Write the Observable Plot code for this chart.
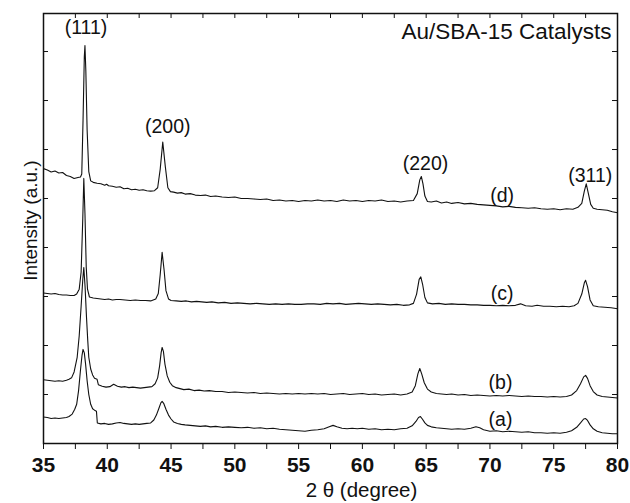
<!DOCTYPE html>
<html><head><meta charset="utf-8">
<script src="https://cdn.jsdelivr.net/npm/d3@7"></script>
<script src="https://cdn.jsdelivr.net/npm/@observablehq/plot@0.6"></script>
<style>
html,body{margin:0;padding:0;background:#fff;}
svg{font-family:"Liberation Sans", Arial, sans-serif;}
</style></head><body><div id="chart"></div>
<script>
// ---- data (2θ in degrees, intensity in stacked arbitrary units) ----
const seriesNames = ["(a)", "(b)", "(c)", "(d)"];
const peakLabels = ["(111)", "(200)", "(220)", "(311)"];
const peakLabelX = [38.33, 44.74, 64.95, 77.86];
const peakLabelY = [8.48, 6.46, 5.71, 5.47];
const seriesLabelX = [70.83, 70.83, 70.96, 70.96];
const seriesLabelY = [0.49, 1.25, 3.05, 5.05];
const titleText = "Au/SBA-15 Catalysts";
const xTitle = "2 θ (degree)";
const yTitle = "Intensity (a.u.)";
const majorTicks = [35, 40, 45, 50, 55, 60, 65, 70, 75, 80];
const minorTicks = [37.5, 42.5, 47.5, 52.5, 57.5, 62.5, 67.5, 72.5, 77.5];
const yTicks = [1, 2, 3, 4, 5, 6, 7, 8];

const curveA = [[35.0,0.54],[35.3,0.53],[35.6,0.51],[35.9,0.52],[36.2,0.51],[36.5,0.52],[36.8,0.53],[37.0,0.55],[37.25,0.60],[37.45,0.70],[37.6,0.80],[37.75,1.08],[37.9,1.50],[38.02,1.80],[38.1,1.92],[38.2,1.85],[38.3,1.62],[38.42,1.28],[38.55,1.00],[38.7,0.80],[38.85,0.71],[39.0,0.68],[39.15,0.66],[39.22,0.42],[39.5,0.40],[39.8,0.41],[40.1,0.39],[40.4,0.40],[40.7,0.42],[41.0,0.43],[41.3,0.41],[41.6,0.40],[41.9,0.39],[42.2,0.40],[42.5,0.39],[42.8,0.40],[43.1,0.41],[43.4,0.42],[43.65,0.48],[43.85,0.58],[44.05,0.72],[44.2,0.83],[44.3,0.86],[44.42,0.82],[44.6,0.70],[44.8,0.58],[45.0,0.50],[45.2,0.44],[45.5,0.41],[45.8,0.39],[46.1,0.38],[46.5,0.37],[46.9,0.36],[47.3,0.35],[47.7,0.36],[48.1,0.34],[48.5,0.35],[49.0,0.33],[49.5,0.34],[50.0,0.33],[50.5,0.32],[51.0,0.33],[51.5,0.31],[52.0,0.32],[52.5,0.30],[53.0,0.31],[53.5,0.29],[54.0,0.28],[54.5,0.27],[55.0,0.26],[55.5,0.25],[56.0,0.27],[56.5,0.28],[57.0,0.30],[57.4,0.34],[57.7,0.37],[58.0,0.34],[58.4,0.31],[58.8,0.30],[59.2,0.31],[59.6,0.30],[60.0,0.31],[60.5,0.29],[61.0,0.30],[61.5,0.28],[62.0,0.29],[62.5,0.28],[63.0,0.30],[63.5,0.31],[63.9,0.36],[64.2,0.45],[64.4,0.53],[64.55,0.55],[64.7,0.50],[64.9,0.42],[65.1,0.37],[65.4,0.34],[65.8,0.32],[66.2,0.31],[66.6,0.30],[67.0,0.29],[67.5,0.30],[68.0,0.29],[68.5,0.31],[68.9,0.34],[69.2,0.32],[69.5,0.28],[70.0,0.25],[70.5,0.26],[71.0,0.24],[71.5,0.25],[72.0,0.24],[72.5,0.23],[73.0,0.24],[73.5,0.22],[74.0,0.22],[74.5,0.21],[75.0,0.22],[75.5,0.21],[76.0,0.23],[76.4,0.26],[76.8,0.33],[77.1,0.42],[77.35,0.50],[77.5,0.51],[77.65,0.47],[77.85,0.38],[78.1,0.30],[78.4,0.25],[78.8,0.22],[79.2,0.21],[79.6,0.20],[80.0,0.20]];

const curveB = [[35.0,1.30],[35.3,1.29],[35.6,1.28],[35.9,1.27],[36.2,1.28],[36.5,1.27],[36.8,1.29],[37.0,1.31],[37.2,1.34],[37.4,1.46],[37.64,1.76],[37.8,2.20],[37.95,2.80],[38.08,3.35],[38.16,3.59],[38.26,3.20],[38.37,2.58],[38.47,2.10],[38.55,1.76],[38.7,1.52],[38.85,1.40],[39.0,1.33],[39.2,1.31],[39.3,1.20],[39.6,1.17],[39.9,1.15],[40.2,1.16],[40.5,1.21],[40.8,1.17],[41.1,1.15],[41.4,1.16],[41.7,1.14],[42.0,1.15],[42.3,1.14],[42.6,1.13],[42.9,1.14],[43.2,1.15],[43.5,1.16],[43.75,1.22],[43.95,1.34],[44.1,1.58],[44.22,1.85],[44.3,1.96],[44.4,1.88],[44.52,1.62],[44.7,1.38],[44.9,1.25],[45.1,1.18],[45.4,1.14],[45.7,1.12],[46.0,1.10],[46.4,1.11],[46.8,1.08],[47.2,1.09],[47.6,1.07],[48.0,1.08],[48.5,1.06],[49.0,1.06],[49.5,1.04],[50.0,1.05],[50.5,1.04],[51.0,1.03],[51.5,1.04],[52.0,1.02],[52.5,1.03],[53.0,1.02],[53.5,1.01],[54.0,1.02],[54.5,1.01],[55.0,1.02],[55.5,1.01],[56.0,1.02],[56.5,1.01],[57.0,1.02],[57.5,1.00],[58.0,1.01],[58.5,1.02],[59.0,1.00],[59.5,1.01],[60.0,1.02],[60.5,1.00],[61.0,1.01],[61.5,0.99],[62.0,1.00],[62.5,1.01],[63.0,0.99],[63.5,1.01],[63.9,1.05],[64.15,1.18],[64.35,1.42],[64.5,1.53],[64.65,1.42],[64.85,1.24],[65.1,1.11],[65.4,1.05],[65.8,1.02],[66.2,1.01],[66.6,1.00],[67.0,1.01],[67.5,0.99],[68.0,1.00],[68.5,0.98],[69.0,0.99],[69.5,0.98],[70.0,0.97],[70.5,0.98],[71.0,0.97],[71.5,0.98],[72.0,0.97],[72.5,0.96],[73.0,0.97],[73.5,0.96],[74.0,0.96],[74.5,0.95],[75.0,0.96],[75.5,0.95],[76.0,0.96],[76.4,0.99],[76.8,1.08],[77.1,1.22],[77.35,1.36],[77.5,1.39],[77.65,1.33],[77.85,1.18],[78.1,1.06],[78.4,0.99],[78.8,0.96],[79.2,0.95],[79.6,0.94],[80.0,0.93]];

const curveC = [[35.0,3.07],[35.3,3.06],[35.6,3.05],[35.9,3.06],[36.2,3.04],[36.5,3.03],[36.8,3.03],[37.1,3.02],[37.4,3.02],[37.6,3.05],[37.8,3.15],[37.95,3.50],[38.08,4.60],[38.16,5.41],[38.25,4.70],[38.35,3.60],[38.45,3.15],[38.6,2.99],[38.9,2.97],[39.2,2.96],[39.5,2.95],[39.8,2.94],[40.1,2.95],[40.4,2.93],[40.7,2.94],[41.0,2.94],[41.4,2.93],[41.8,2.92],[42.2,2.93],[42.6,2.92],[43.0,2.92],[43.4,2.91],[43.8,2.95],[44.0,3.06],[44.15,3.45],[44.3,3.90],[44.45,3.55],[44.6,3.12],[44.8,2.95],[45.0,2.92],[45.4,2.91],[45.8,2.90],[46.2,2.91],[46.6,2.89],[47.0,2.90],[47.4,2.89],[47.8,2.88],[48.2,2.89],[48.7,2.87],[49.2,2.88],[49.7,2.86],[50.2,2.87],[50.7,2.86],[51.2,2.85],[51.7,2.86],[52.2,2.85],[52.7,2.84],[53.2,2.85],[53.7,2.84],[54.2,2.85],[54.7,2.84],[55.2,2.84],[55.7,2.85],[56.2,2.85],[56.7,2.84],[57.2,2.86],[57.7,2.85],[58.2,2.86],[58.7,2.84],[59.2,2.85],[59.7,2.86],[60.2,2.85],[60.7,2.84],[61.2,2.85],[61.7,2.84],[62.2,2.83],[62.7,2.84],[63.2,2.82],[63.7,2.83],[64.0,2.86],[64.25,3.05],[64.45,3.35],[64.58,3.40],[64.72,3.25],[64.9,2.98],[65.1,2.87],[65.5,2.85],[66.0,2.86],[66.5,2.84],[67.0,2.85],[67.5,2.84],[68.0,2.84],[68.5,2.83],[69.0,2.83],[69.5,2.82],[70.0,2.82],[70.5,2.81],[71.0,2.82],[71.5,2.81],[72.0,2.82],[72.4,2.85],[72.8,2.81],[73.3,2.80],[73.7,2.82],[74.2,2.80],[74.7,2.80],[75.2,2.79],[75.7,2.80],[76.2,2.79],[76.6,2.81],[76.9,2.86],[77.2,3.05],[77.4,3.28],[77.5,3.33],[77.65,3.20],[77.85,2.93],[78.1,2.81],[78.5,2.79],[79.0,2.78],[79.5,2.77],[80.0,2.75]];

const curveD = [[35.0,5.61],[35.3,5.58],[35.6,5.54],[35.9,5.56],[36.2,5.52],[36.5,5.53],[36.8,5.47],[37.1,5.45],[37.4,5.41],[37.7,5.43],[37.9,5.44],[38.0,5.50],[38.1,6.60],[38.2,7.90],[38.25,8.12],[38.32,7.60],[38.42,6.40],[38.55,5.55],[38.7,5.36],[38.9,5.33],[39.2,5.31],[39.5,5.30],[39.8,5.27],[39.95,5.29],[40.1,5.26],[40.4,5.25],[40.7,5.23],[41.0,5.24],[41.3,5.20],[41.6,5.21],[41.9,5.18],[42.2,5.19],[42.5,5.17],[42.8,5.18],[43.1,5.16],[43.4,5.15],[43.7,5.16],[43.95,5.22],[44.15,5.60],[44.35,6.15],[44.55,5.65],[44.75,5.22],[44.95,5.14],[45.2,5.13],[45.5,5.11],[45.8,5.12],[46.1,5.09],[46.5,5.10],[46.9,5.07],[47.3,5.06],[47.7,5.07],[48.1,5.04],[48.5,5.05],[49.0,5.03],[49.5,5.02],[50.0,5.03],[50.5,5.00],[51.0,5.00],[51.5,4.99],[52.0,4.98],[52.5,4.99],[53.0,4.96],[53.5,4.97],[54.0,4.95],[54.5,4.96],[55.0,4.94],[55.5,4.96],[56.0,4.95],[56.5,4.97],[57.0,4.95],[57.5,4.96],[58.0,4.94],[58.5,4.97],[59.0,4.95],[59.5,4.96],[60.0,4.94],[60.5,4.96],[61.0,4.95],[61.5,4.97],[62.0,4.94],[62.5,4.95],[63.0,4.93],[63.5,4.95],[64.0,4.96],[64.3,5.10],[64.5,5.38],[64.62,5.45],[64.75,5.30],[64.9,5.05],[65.1,4.94],[65.4,4.93],[65.8,4.95],[66.2,4.91],[66.6,4.93],[67.0,4.90],[67.5,4.92],[68.0,4.89],[68.5,4.90],[69.0,4.88],[69.5,4.87],[70.0,4.86],[70.5,4.85],[71.0,4.83],[71.5,4.84],[72.0,4.82],[72.5,4.81],[73.0,4.80],[73.5,4.81],[74.0,4.79],[74.5,4.78],[75.0,4.79],[75.5,4.77],[76.0,4.79],[76.5,4.78],[76.9,4.82],[77.2,4.90],[77.4,5.15],[77.55,5.30],[77.7,5.12],[77.9,4.88],[78.1,4.80],[78.4,4.78],[78.8,4.77],[79.2,4.76],[79.6,4.73],[80.0,4.71]];

// ---- build tables ----
const curves = [curveA, curveB, curveC, curveD];
const rows = [];
curves.forEach((c, i) => c.forEach(([x, y]) => rows.push({x, y, s: seriesNames[i]})));
const peakRows = peakLabels.map((t, i) => ({t, x: peakLabelX[i], y: peakLabelY[i]}));
const seriesRows = seriesNames.map((t, i) => ({t, x: seriesLabelX[i], y: seriesLabelY[i]}));
const allXTicks = majorTicks.concat(minorTicks);

const ink = "#111";
const chart = Plot.plot({
  width: 630, height: 503,
  marginLeft: 43, marginRight: 13, marginTop: 13, marginBottom: 60,
  style: {fontFamily: "Liberation Sans, Arial, sans-serif", background: "#fff", color: ink},
  x: {domain: [35, 80], label: null},
  y: {domain: [0, 8.776], axis: null, label: null},
  marks: [
    Plot.line(rows, {x: "x", y: "y", z: "s", stroke: ink, strokeWidth: 1.1}),
    Plot.axisX({ticks: allXTicks, tickSize: 6, tickFormat: () => "", label: null, stroke: ink}),
    Plot.text(majorTicks, {x: d => d, text: d => String(d), frameAnchor: "bottom", dy: 22, lineAnchor: "middle", textAnchor: "middle", fontSize: 21, fontWeight: "bold"}),
    Plot.tickX(allXTicks, {x: d => d, insetBottom: 425, stroke: ink}),
    Plot.tickY(yTicks, {y: d => d, insetRight: 569, stroke: ink}),
    Plot.tickY(yTicks, {y: d => d, insetLeft: 569, stroke: ink}),
    Plot.frame({stroke: ink, strokeWidth: 1.5}),
    Plot.text(peakRows, {x: "x", y: "y", text: "t", fontSize: 19.5, textAnchor: "middle", lineAnchor: "middle"}),
    Plot.text(seriesRows, {x: "x", y: "y", text: "t", fontSize: 19.5, textAnchor: "middle", lineAnchor: "middle"}),
    Plot.text([titleText], {frameAnchor: "top-right", textAnchor: "end", lineAnchor: "top", dx: -6, dy: 10, fontSize: 22.5}),
    Plot.text([xTitle], {frameAnchor: "bottom", textAnchor: "middle", lineAnchor: "middle", dx: 31, dy: 47, fontSize: 20.5}),
    Plot.text([yTitle], {frameAnchor: "left", rotate: -90, textAnchor: "middle", lineAnchor: "middle", dx: -13, dy: -8, fontSize: 19})
  ]
});
document.getElementById("chart").appendChild(chart);
</script></body></html>
